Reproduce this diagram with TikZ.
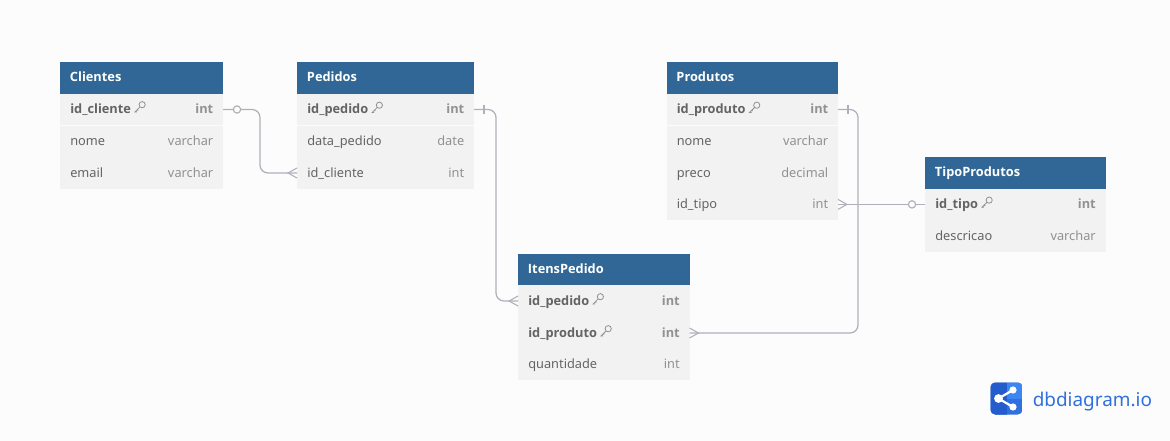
\documentclass[tikz,border=0pt]{standalone}
\usepackage{fontspec}
\setmainfont{Noto Sans}
\newfontfamily\dbbold{Open Sans}
\usetikzlibrary{positioning}
\definecolor{dbbg}{RGB}{252,252,252}
\definecolor{dbhead}{RGB}{48,103,150}
\definecolor{dbedge}{RGB}{120,165,205}
\definecolor{dbrowc}{RGB}{242,242,242}
\definecolor{dbtext}{RGB}{100,100,100}
\definecolor{dbtype}{RGB}{145,145,145}
\definecolor{dblink}{RGB}{176,176,186}
\definecolor{dblogo}{RGB}{47,112,222}
\definecolor{dblogod}{RGB}{36,92,205}
\definecolor{dblogol}{RGB}{60,134,242}
\tikzset{
head/.style={fill=dbhead,draw=none,anchor=west,minimum height=24pt,inner sep=0pt,outer sep=0pt},
headtext/.style={text=white,font=\fontsize{9.6}{10}\selectfont\dbbold\bfseries,anchor=base west,inner sep=0pt},
rowbox/.style={fill=dbrowc,draw=none,anchor=west,minimum height=23.4pt,inner sep=0pt,outer sep=0pt},
fieldname/.style={text=dbtext,font=\fontsize{9.6}{10}\selectfont,anchor=base west,inner sep=0pt},
fieldtype/.style={text=dbtype,font=\fontsize{9.6}{10}\selectfont,anchor=base east,inner sep=0pt},
keyrow/.style={font=\fontsize{9.6}{10}\selectfont\dbbold\bfseries},
link/.style={draw=dblink,line width=.95pt,rounded corners=6pt},
zeroone/.style={circle,draw=dblink,fill=dbbg,line width=.85pt,minimum size=5.5pt,inner sep=0pt},
crowleft/.pic={\draw[dblink,line width=.8pt] (0,-5)--(-9,0)--(0,5);},
crowright/.pic={\draw[dblink,line width=.8pt] (0,-5)--(9,0)--(0,5);},
tick/.pic={\draw[dblink,line width=.8pt] (0,-4.5)--(0,4.5);},
keyicon/.pic={\draw[dbtype,line width=.6pt] (2.2,-2.2) circle (3.1) (0,0)--(-5,5)--(-3,5) (-3.4,3.4)--(-1.6,3.4);},
}
% #1 name, #2 x, #3 y, #4 width, #5 field, #6 type, #7 extra style
\newcommand{\dbrow}[7]{
\node[rowbox,minimum width=#4*.75pt] (#1) at (#2,#3) {};
\node[fieldname,#7] (#1f) at (#2+10,#3+4.3) {#5};
\node[fieldtype,#7] (#1t) at (#2+#4-9.5,#3+4.3) {#6};
}
\newcommand{\dbhead}[5]{
\node[head,minimum width=#4*.75pt] (#1) at (#2,#3) {};
\draw[dbedge,line width=.6pt] (#1.south west)--(#1.south east);
\node[headtext] (#1t) at (#2+9.7,#3+3.4) {#5};
}
\begin{document}
\begin{tikzpicture}[x=.75pt,y=-.75pt]
\useasboundingbox[fill=dbbg] (0,0) rectangle (1170,441);
% Clientes
\dbhead{cli}{60}{78}{163}{Clientes}
\dbrow{cli1}{60}{109.5}{163}{id\_cliente}{int}{keyrow}
\dbrow{cli2}{60}{141.2}{163}{nome}{varchar}{}
\dbrow{cli3}{60}{173}{163}{email}{varchar}{}
% Pedidos
\dbhead{ped}{297}{78}{177}{Pedidos}
\dbrow{ped1}{297}{109.5}{177}{id\_pedido}{int}{keyrow}
\dbrow{ped2}{297}{141.2}{177}{data\_pedido}{date}{}
\dbrow{ped3}{297}{173}{177}{id\_cliente}{int}{}
% Produtos
\dbhead{pro}{666.5}{78}{171.5}{Produtos}
\dbrow{pro1}{666.5}{109.5}{171.5}{id\_produto}{int}{keyrow}
\dbrow{pro2}{666.5}{141.2}{171.5}{nome}{varchar}{}
\dbrow{pro3}{666.5}{173}{171.5}{preco}{decimal}{}
\dbrow{pro4}{666.5}{204.4}{171.5}{id\_tipo}{int}{}
% TipoProdutos
\dbhead{tip}{925}{173}{180.5}{TipoProdutos}
\dbrow{tip1}{925}{204.4}{180.5}{id\_tipo}{int}{keyrow}
\dbrow{tip2}{925}{236}{180.5}{descricao}{varchar}{}
% ItensPedido
\dbhead{ite}{518}{270}{171.5}{ItensPedido}
\dbrow{ite1}{518}{301}{171.5}{id\_pedido}{int}{keyrow}
\dbrow{ite2}{518}{333}{171.5}{id\_produto}{int}{keyrow}
\dbrow{ite3}{518}{364.3}{171.5}{quantidade}{int}{}
% keys
\pic at ([xshift=6.5pt,yshift=2.3pt]cli1f.east) {keyicon};
\pic at ([xshift=6.5pt,yshift=2.3pt]ped1f.east) {keyicon};
\pic at ([xshift=6.5pt,yshift=2.3pt]pro1f.east) {keyicon};
\pic at ([xshift=6.5pt,yshift=2.3pt]tip1f.east) {keyicon};
\pic at ([xshift=6.5pt,yshift=2.3pt]ite1f.east) {keyicon};
\pic at ([xshift=6.5pt,yshift=2.3pt]ite2f.east) {keyicon};
% links
\coordinate (bendcli) at (260,140);
\coordinate (bendped) at (496,200);
\coordinate (bendpro) at (858,200);
\draw[link] (cli1.east) -| (bendcli) |- (ped3.west);
\draw[link] (ped1.east) -| (bendped) |- (ite1.west);
\draw[link] (pro1.east) -| (bendpro) |- (ite2.east);
\draw[link] (pro4.east) -- (tip1.west);
\node[zeroone] (zcli) at (237,109.5) {};
\node[zeroone] (ztip) at (912,204.4) {};
\pic at (ped3.west) {crowleft};
\pic at (ite1.west) {crowleft};
\pic at (ite2.east) {crowright};
\pic at (pro4.east) {crowright};
\pic at (484,109.5) {tick};
\pic at (848,109.5) {tick};
% logo
\begin{scope}
\clip[rounded corners=3.5pt] (990.5,382.5) rectangle (1022.5,414.5);
\fill[dblogo] (990,382) rectangle (1023,415);
\fill[dblogod] (990,382) rectangle (1006.5,415);
\fill[dblogol] (1006.5,382) rectangle (1023,398.5);
\end{scope}
\coordinate (lg1) at (998.5,398.5);
\coordinate (lg2) at (1013,390);
\coordinate (lg3) at (1013,407);
\draw[white,line width=1.7pt] (lg2) -- (lg1) -- (lg3);
\fill[white] (lg1) circle (4.4) (lg2) circle (3.6) (lg3) circle (3.6);
\node[text=dblogo,font=\fontsize{14.2}{15}\selectfont,anchor=base west,inner sep=0pt] (logotext) at (1032.5,406) {dbdiagram.io};
\end{tikzpicture}
\end{document}
